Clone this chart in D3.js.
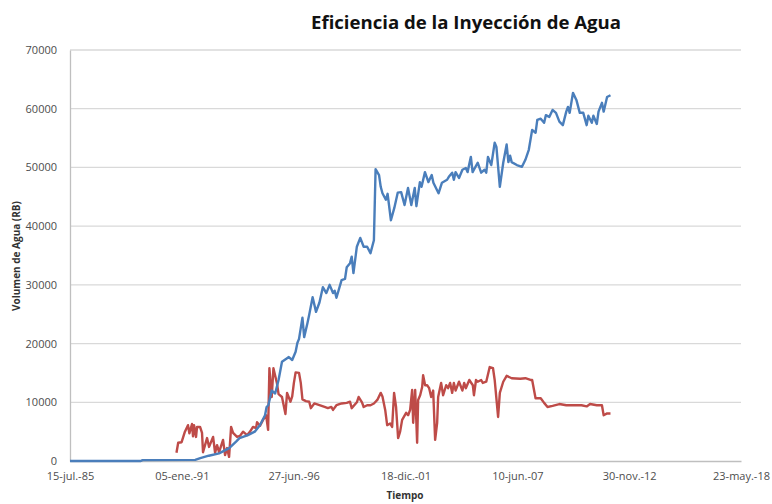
<!DOCTYPE html>
<html>
<head>
<meta charset="utf-8">
<script src="https://cdn.jsdelivr.net/npm/d3@7/dist/d3.min.js"></script>
<style>
  html, body { margin: 0; padding: 0; background: #fff; }
  svg { display: block; }
</style>
</head>
<body>
<svg id="chart" width="772" height="504"></svg>
<script>
// Injected water volume (blue) and secondary series (red) over time
const blueDates = ["1985-07-15","1989-01","1989-02","1991-09","1991-12","1992-05","1992-11","1993-05","1993-09","1993-11","1994-04","1994-08","1994-11","1995-02","1995-03","1995-04","1995-06","1995-08","1995-10","1995-12","1996-03","1996-04","1996-06","1996-08","1996-09","1996-10","1996-12","1997-01","1997-03","1997-04","1997-06","1997-08","1997-10","1997-11","1997-12","1998-02","1998-04","1998-06","1998-07","1998-08","1998-11","1999-01","1999-02","1999-04","1999-05","1999-06","1999-08","1999-10","1999-12","2000-02","2000-04","2000-06","2000-07","2000-09","2000-10","2000-11","2001-01","2001-02","2001-04","2001-06","2001-08","2001-10","2001-12","2002-02","2002-04","2002-06","2002-07","2002-09","2002-10","2002-12","2003-02","2003-04","2003-05","2003-08","2003-10","2004-01","2004-02","2004-04","2004-05","2004-06","2004-08","2004-10","2004-12","2005-01","2005-03","2005-04","2005-07","2005-09","2005-11","2005-12","2006-01","2006-03","2006-05","2006-06","2006-08","2006-10","2006-12","2007-01","2007-02","2007-03","2007-06","2007-09","2007-11","2008-01","2008-03","2008-05","2008-06","2008-08","2008-10","2008-11","2009-01","2009-03","2009-05","2009-07","2009-09","2009-11","2009-12","2010-01","2010-03","2010-05","2010-07","2010-09","2010-11","2010-12","2011-02","2011-03","2011-05","2011-06","2011-08","2011-09","2011-11","2012-01"];
const blueValues = [0,0,150,200,500,900,1300,2200,3300,3900,4400,5000,6100,7800,9200,9500,12000,11500,13800,16900,17500,17700,17200,18600,20100,20800,24400,21100,23500,24900,27900,25400,27000,28300,29600,28600,30000,28600,29000,27800,30800,31000,33000,33700,34800,32000,36500,38000,36500,36500,35400,37600,49700,48700,46700,45600,44500,45500,41000,43100,45700,45800,43600,46500,43600,46500,43400,47500,46700,49200,47500,48700,47400,45600,47400,47900,48400,49100,47900,49200,48200,49600,49900,49200,51800,49200,50800,49100,49600,49100,51800,50400,54200,53500,46700,50800,53900,50900,52000,50900,50400,50100,51300,53000,56400,55900,58100,58300,57600,58900,58600,59800,59300,57800,57200,59500,60300,59300,62700,61500,59300,59300,57200,58800,57600,58800,57400,59500,61000,59500,62000,62300];

const redDates = ["1990-10","1990-11","1991-01","1991-03","1991-04-25","1991-05-20","1991-07-06","1991-07-24","1991-08-11","1991-09-16","1991-10-04","1991-11-27","1992-01-01","1992-01-19","1992-03-31","1992-05-06","1992-07-17","1992-08-22","1992-09-26","1992-11-01","1993-01-11","1993-02-16","1993-03-24","1993-04-29","1993-06-04","1993-07-09","1993-09-19","1993-11-12","1994-01-04","1994-03-16","1994-05-09","1994-07-01","1994-08-24","1994-09-11","1994-11-04","1994-12-28","1995-02-20","1995-03-28","1995-04-20","1995-06","1995-07","1995-09","1995-10","1995-12","1996-02","1996-03","1996-05","1996-06","1996-07","1996-08","1996-10","1996-11","1996-12","1997-02","1997-04","1997-05","1997-07","1997-10","1998-01","1998-03","1998-05","1998-06","1998-08","1998-11","1999-02","1999-04","1999-05","1999-08","1999-09","1999-11","1999-12","2000-02","2000-04","2000-06","2000-08","2000-10","2000-11","2000-12-20","2001-01-24","2001-03-18","2001-04-23","2001-05-28","2001-07-02","2001-08-08","2001-09-13","2001-10-19","2001-12-29","2002-02-03","2002-03-11","2002-04-16","2002-05-04","2002-06-09","2002-07-14","2002-08-01","2002-09-06","2002-10-12","2002-10-29","2002-12-04","2003-01-09","2003-02-14","2003-03-22","2003-04-27","2003-06-01","2003-07-07","2003-07-25","2003-09-16","2003-10-22","2003-12-15","2004-01-19","2004-02-24","2004-04","2004-05","2004-06","2004-08","2004-10","2004-11","2004-12","2005-02","2005-04-05","2005-04-25","2005-06","2005-07","2005-09","2005-10","2005-12","2006-02","2006-04","2006-05","2006-07","2006-08","2006-10","2006-12","2007-03","2007-08","2007-11","2008-02","2008-03","2008-05","2008-08","2008-10","2008-12","2009-03","2009-07","2009-11","2010-03","2010-08","2010-11","2011-01","2011-05","2011-08","2011-09","2011-11","2012-01"];
const redValues = [1400,3100,3200,5000,6100,4700,6300,4200,6100,4100,5800,5800,4800,1500,3900,2400,4100,1400,2700,1500,3600,1000,2200,700,5800,4800,4100,4300,5000,4400,5000,5800,5600,6600,6000,7000,7800,5300,15800,10900,15800,13300,11400,10900,8000,11600,10100,11000,13300,15100,15000,13300,10500,10200,10100,9000,9800,9500,9200,9000,9200,8700,9500,9800,9900,10100,9000,10000,10900,10000,9200,9500,9500,9800,10400,11600,11000,8700,6100,6400,5800,11600,9200,3900,5000,7000,8200,7800,8700,12100,6500,12100,3100,10400,11200,12600,14600,12900,12900,12400,10900,12000,3600,6500,10900,13300,11200,12900,12400,13300,11600,13300,12000,13500,12000,13300,12400,13800,12900,11200,13800,13500,13800,13300,13500,16000,15800,13800,7500,11600,13500,14500,14100,14000,14100,13800,13800,10700,10700,9900,9200,9400,9700,9500,9500,9500,9300,9700,9500,9500,7800,8100,8100];

// Axis ticks: every 2000 days from 15-jul.-85
const xTickDates = ["1985-07-15","1991-01-05","1996-06-27","2001-12-18","2007-06-10","2012-11-30","2018-05-23"];
const xTickLabels = ["15-jul.-85","05-ene.-91","27-jun.-96","18-dic.-01","10-jun.-07","30-nov.-12","23-may.-18"];
const yTicks = [0,10000,20000,30000,40000,50000,60000,70000];

const parseDay = d3.timeParse("%Y-%m-%d");
const parseMonth = d3.timeParse("%Y-%m");
const parse = s => parseDay(s) || parseMonth(s);

const blue = blueDates.map((d, i) => ({ date: parse(d), value: blueValues[i] }));
const red = redDates.map((d, i) => ({ date: parse(d), value: redValues[i] }));

const margin = { left: 70, right: 31, top: 50, bottom: 43 };
const W = 772, H = 504;
const svg = d3.select("#chart");

const x = d3.scaleTime()
  .domain([parse(xTickDates[0]), parse(xTickDates[xTickDates.length - 1])])
  .range([margin.left, W - margin.right]);
const y = d3.scaleLinear()
  .domain([0, 70000])
  .range([H - margin.bottom, margin.top]);

// Horizontal gridlines
svg.append("g")
  .selectAll("line")
  .data(yTicks.slice(1))
  .join("line")
  .attr("x1", margin.left).attr("x2", W - margin.right)
  .attr("y1", d => y(d)).attr("y2", d => y(d))
  .attr("stroke", "#d9d9d9").attr("stroke-width", 1.3);

// Y axis
const yAxis = svg.append("g")
  .attr("transform", `translate(${margin.left},0)`)
  .call(d3.axisLeft(y).tickValues(yTicks).tickSize(0).tickPadding(13).tickFormat(d3.format("d")));
yAxis.select(".domain").attr("stroke", "#bfbfbf").attr("stroke-width", 1.3);
yAxis.selectAll("text")
  .attr("font-family", "'Open Sans', sans-serif").attr("font-size", 11).attr("fill", "#4d4d4d");

// X axis
const xAxis = svg.append("g")
  .attr("transform", `translate(0,${H - margin.bottom})`)
  .call(d3.axisBottom(x).tickValues(xTickDates.map(parse)).tickSize(0).tickPadding(11)
    .tickFormat((d, i) => xTickLabels[i]));
xAxis.select(".domain").attr("stroke", "#bfbfbf").attr("stroke-width", 1.3);
xAxis.selectAll("text")
  .attr("font-family", "'Open Sans', sans-serif").attr("font-size", 11).attr("fill", "#4d4d4d");

// Series lines
const line = d3.line().x(d => x(d.date)).y(d => y(d.value));
svg.append("path").datum(red)
  .attr("d", line).attr("fill", "none")
  .attr("stroke", "#be4b48").attr("stroke-width", 2.4).attr("stroke-linejoin", "round");
svg.append("path").datum(blue)
  .attr("d", line).attr("fill", "none")
  .attr("stroke", "#4a7ebb").attr("stroke-width", 2.4).attr("stroke-linejoin", "round");

// Titles
svg.append("text")
  .attr("x", 466).attr("y", 29)
  .attr("text-anchor", "middle")
  .attr("font-family", "'Open Sans', sans-serif").attr("font-weight", "bold").attr("font-size", 18.6)
  .attr("fill", "#111")
  .text("Eficiencia de la Inyección de Agua");

svg.append("text")
  .attr("x", 405).attr("y", 499)
  .attr("text-anchor", "middle")
  .attr("font-family", "'Open Sans', sans-serif").attr("font-weight", "bold").attr("font-size", 10)
  .attr("fill", "#333")
  .text("Tiempo");

svg.append("text")
  .attr("transform", "translate(20,256) rotate(-90)")
  .attr("text-anchor", "middle")
  .attr("font-family", "'Open Sans', sans-serif").attr("font-weight", "bold").attr("font-size", 10)
  .attr("fill", "#333")
  .text("Volumen de Agua (RB)");
</script>
</body>
</html>
